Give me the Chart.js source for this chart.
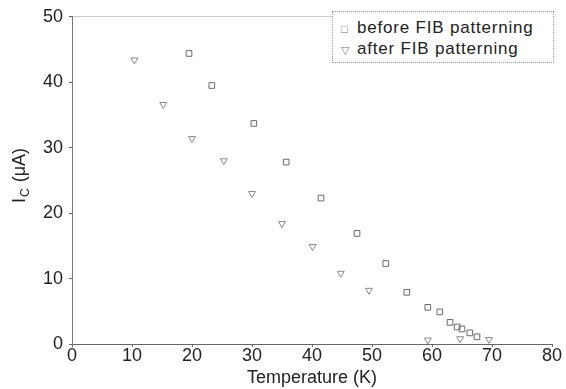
<!DOCTYPE html>
<html>
<head>
<meta charset="utf-8">
<script src="https://cdn.jsdelivr.net/npm/chart.js@4/dist/chart.umd.min.js"></script>
<style>
  html, body { margin: 0; padding: 0; background: #fff; }
  #wrap { position: relative; width: 566px; height: 389px; }
  #legend {
    position: absolute; left: 332px; top: 11px; width: 222px; height: 52px;
    border: 1px dotted #999; box-sizing: border-box; background: #fff;
    font-family: "Liberation Sans", Arial, sans-serif; font-size: 17px; color: #222;
    letter-spacing: 0.8px; padding: 6px 0 0 8px; line-height: 20px;
  }
  #legend .m { color: #777; font-size: 11px; display: inline-block; width: 16px; letter-spacing: 0; }
</style>
</head>
<body>
<div id="wrap">
  <canvas id="chart" width="566" height="389"></canvas>
  <div id="legend">
    <div><span class="m">□</span>before FIB patterning</div>
    <div><span class="m">▽</span>after FIB patterning</div>
  </div>
</div>
<script>
const beforeT  = [19.5, 23.3, 30.3, 35.7, 41.5, 47.5, 52.3, 55.8, 59.3, 61.3, 63.0, 64.2, 65.0, 66.3, 67.5];
const beforeIc = [44.4, 39.5, 33.7, 27.8, 22.3, 16.9, 12.3, 7.9, 5.6, 4.9, 3.3, 2.6, 2.3, 1.7, 1.1];
const afterT   = [10.4, 15.2, 20.0, 25.3, 30.0, 35.0, 40.1, 44.8, 49.5, 59.3, 64.7, 69.5];
const afterIc  = [43.4, 36.6, 31.4, 28.0, 23.0, 18.4, 14.9, 10.8, 8.2, 0.6, 0.8, 0.7];
const xTicks = [0, 10, 20, 30, 40, 50, 60, 70, 80];
const yTicks = [0, 10, 20, 30, 40, 50];

const FONT = "'Liberation Sans', Arial, sans-serif";
const toPts = (xs, ys) => xs.map((x, i) => ({ x, y: ys[i] }));

// y-axis title with subscript C
const yTitle = {
  id: "yTitle",
  afterDraw(chart) {
    const ctx = chart.ctx;
    ctx.save();
    ctx.translate(20, 172);
    ctx.rotate(-Math.PI / 2);
    ctx.fillStyle = "#222";
    ctx.textBaseline = "middle";
    ctx.textAlign = "left";
    ctx.font = "18px " + FONT;
    let x = -31;
    ctx.fillText("I", x, 0);
    x += ctx.measureText("I").width + 1;
    ctx.font = "12px " + FONT;
    ctx.fillText("C", x, 6);
    x += ctx.measureText("C").width + 1;
    ctx.font = "18px " + FONT;
    ctx.fillText(" (μA)", x, 0);
    ctx.restore();
  }
};

new Chart(document.getElementById("chart"), {
  type: "scatter",
  data: {
    datasets: [
      {
        label: "before FIB patterning",
        data: toPts(beforeT, beforeIc),
        pointStyle: "rect",
        pointRadius: 4,
        pointBorderWidth: 1,
        borderColor: "#6a6a6a",
        backgroundColor: "rgba(0,0,0,0)",
      },
      {
        label: "after FIB patterning",
        data: toPts(afterT, afterIc),
        pointStyle: "triangle",
        rotation: 180,
        pointRadius: 4,
        pointBorderWidth: 1,
        borderColor: "#8a8a8a",
        backgroundColor: "rgba(0,0,0,0)",
      },
    ],
  },
  options: {
    responsive: false,
    animation: false,
    layout: { padding: { left: 0, right: 14, top: 15, bottom: 0 } },
    plugins: { legend: { display: false }, tooltip: { enabled: false } },
    scales: {
      x: {
        type: "linear", min: 0, max: 80,
        afterBuildTicks: (s) => { s.ticks = xTicks.map(v => ({ value: v })); },
        afterFit: (s) => { s.height = 45; },
        ticks: { color: "#222", font: { family: FONT, size: 18 }, padding: -2, maxRotation: 0 },
        grid: { drawOnChartArea: false, tickLength: 3, color: "#666" },
        border: { color: "#666", dash: [4, 2] },
        title: { display: true, text: "Temperature (K)", color: "#222", font: { family: FONT, size: 18 }, padding: { top: -2, bottom: 0 } },
      },
      xTop: {
        type: "linear", position: "top", min: 0, max: 80,
        ticks: { display: false },
        grid: { display: false },
        border: { color: "#ccc", dash: [2, 3] },
        afterFit: (s) => { s.height = 0; },
      },
      y: {
        type: "linear", min: 0, max: 50,
        afterBuildTicks: (s) => { s.ticks = yTicks.map(v => ({ value: v })); },
        afterFit: (s) => { s.width = 72; },
        ticks: { color: "#222", font: { family: FONT, size: 18 }, padding: 6 },
        grid: { drawOnChartArea: false, tickLength: 3, color: "#666" },
        border: { color: "#777", dash: [2, 3] },
      },
    },
  },
  plugins: [yTitle],
});
</script>
</body>
</html>
